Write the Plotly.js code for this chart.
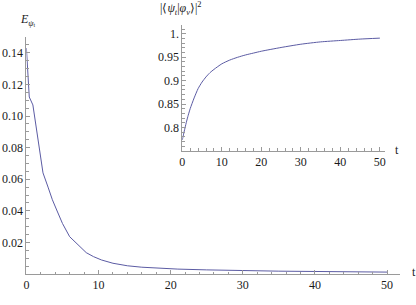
<!DOCTYPE html>
<html>
<head>
<meta charset="utf-8">
<script src="https://cdn.plot.ly/plotly-3.0.1.min.js"></script>
<style>html,body{margin:0;padding:0;background:#fff;}#chart{width:416px;height:305px;}</style>
</head>
<body>
<div id="chart"></div>
<script>
// Main curve: E_{psi_t} vs t
const mainT = [0, 0.4, 0.9, 1.5, 2.3, 3.0, 3.6, 4.2, 5.0, 6.0, 7.0, 8.3, 9.3, 10.4, 12, 14, 16, 18.5, 21, 25, 30, 35, 40, 45, 50];
const mainE = [0.143, 0.112, 0.107, 0.088, 0.064, 0.055, 0.047, 0.0405, 0.032, 0.0236, 0.019, 0.0135, 0.011, 0.0089, 0.0068, 0.0052, 0.0043, 0.0036, 0.0031, 0.0026, 0.0021, 0.0018, 0.0016, 0.0014, 0.0012];
// Inset curve: |<psi_t|phi_v>|^2 vs t
const insetT = [0, 0.5, 1, 1.5, 2, 3, 4, 5, 6, 7, 8, 10, 12, 14, 16, 18, 20, 25, 30, 35, 40, 45, 50];
const insetF = [0.773, 0.792, 0.810, 0.826, 0.840, 0.863, 0.883, 0.897, 0.908, 0.917, 0.924, 0.936, 0.944, 0.950, 0.955, 0.959, 0.963, 0.971, 0.978, 0.983, 0.986, 0.989, 0.991];
// Tick labels
const xTickVals = [0, 10, 20, 30, 40, 50];
const xTickText = ["0", "10", "20", "30", "40", "50"];
const mainYTickVals = [0.02, 0.04, 0.06, 0.08, 0.10, 0.12, 0.14];
const mainYTickText = ["0.02", "0.04", "0.06", "0.08", "0.10", "0.12", "0.14"];
const insetYTickVals = [0.8, 0.85, 0.9, 0.95, 1.0];
const insetYTickText = ["0.8", "0.85", "0.9", "0.95", "1."];

const W = 416, H = 305;
const axisCol = '#9a9a9a';
const lineCol = '#5b5ba3';
const SERIF = 'Liberation Serif';
const tickFont = {family: SERIF, size: 12, color: '#1a1a1a'};

function xAx(range, domain, anchor) {
  return {
    range: range, domain: domain, anchor: anchor,
    showline: true, linecolor: axisCol, linewidth: 1,
    showgrid: false, zeroline: false,
    ticks: 'inside', ticklen: 4, tickcolor: axisCol, tickwidth: 1,
    tickmode: 'array', tickvals: xTickVals, ticktext: xTickText,
    tickfont: tickFont,
    minor: {tickmode: 'linear', tick0: 0, dtick: 2, ticks: 'inside', ticklen: 2.5, tickcolor: axisCol, showgrid: false},
    fixedrange: true
  };
}
function yAx(range, domain, anchor, vals, text, mdt) {
  return {
    range: range, domain: domain, anchor: anchor,
    showline: true, linecolor: axisCol, linewidth: 1,
    showgrid: false, zeroline: false,
    ticks: 'inside', ticklen: 4, tickcolor: axisCol, tickwidth: 1,
    tickmode: 'array', tickvals: vals, ticktext: text,
    tickfont: tickFont,
    minor: {tickmode: 'linear', tick0: 0, dtick: mdt, ticks: 'inside', ticklen: 2.5, tickcolor: axisCol, showgrid: false},
    fixedrange: true
  };
}

const data = [
  {x: mainT, y: mainE, type: 'scatter', mode: 'lines', line: {color: lineCol, width: 1}, xaxis: 'x', yaxis: 'y', hoverinfo: 'none'},
  {x: insetT, y: insetF, type: 'scatter', mode: 'lines', line: {color: lineCol, width: 1, shape: 'spline', smoothing: 0.6}, xaxis: 'x2', yaxis: 'y2', hoverinfo: 'none'}
];

const layout = {
  width: W, height: H,
  margin: {l: 0, r: 0, t: 0, b: 0},
  paper_bgcolor: '#fff', plot_bgcolor: 'rgba(0,0,0,0)',
  showlegend: false,
  font: {family: SERIF},
  xaxis: xAx([0, 51.8], [26.4 / W, 400 / W], 'y'),
  yaxis: yAx([0, 0.15], [1 - 274 / H, 1 - 37 / H], 'x', mainYTickVals, mainYTickText, 0.005),
  xaxis2: xAx([0, 51.3], [182.3 / W, 385 / W], 'y2'),
  yaxis2: yAx([0.75, 1.02], [1 - 150.7 / H, 1 - 24.6 / H], 'x2', insetYTickVals, insetYTickText, 0.01),
  annotations: [
    {text: '<i>E</i><sub><i>ψ</i><sub>t</sub></sub>', xref: 'paper', yref: 'paper', x: 18 / W, y: 1 - 20 / H, xanchor: 'left', yanchor: 'middle', showarrow: false, font: {family: SERIF, size: 12, color: '#1a1a1a'}},
    {text: 't', xref: 'paper', yref: 'paper', x: 414 / W, y: 1 - 272 / H, xanchor: 'center', yanchor: 'middle', showarrow: false, font: {family: SERIF, size: 12, color: '#1a1a1a'}},
    {text: '|⟨<i>ψ</i><sub><i>t</i></sub>|<i>φ</i><sub><i>v</i></sub>⟩|<sup>2</sup>', xref: 'paper', yref: 'paper', x: 158 / W, y: 1 - 9 / H, xanchor: 'left', yanchor: 'middle', showarrow: false, font: {family: SERIF, size: 12, color: '#1a1a1a'}},
    {text: 't', xref: 'paper', yref: 'paper', x: 397 / W, y: 1 - 150 / H, xanchor: 'center', yanchor: 'middle', showarrow: false, font: {family: SERIF, size: 12, color: '#1a1a1a'}}
  ]
};

Plotly.newPlot('chart', data, layout, {staticPlot: true, displayModeBar: false});
</script>
</body>
</html>
